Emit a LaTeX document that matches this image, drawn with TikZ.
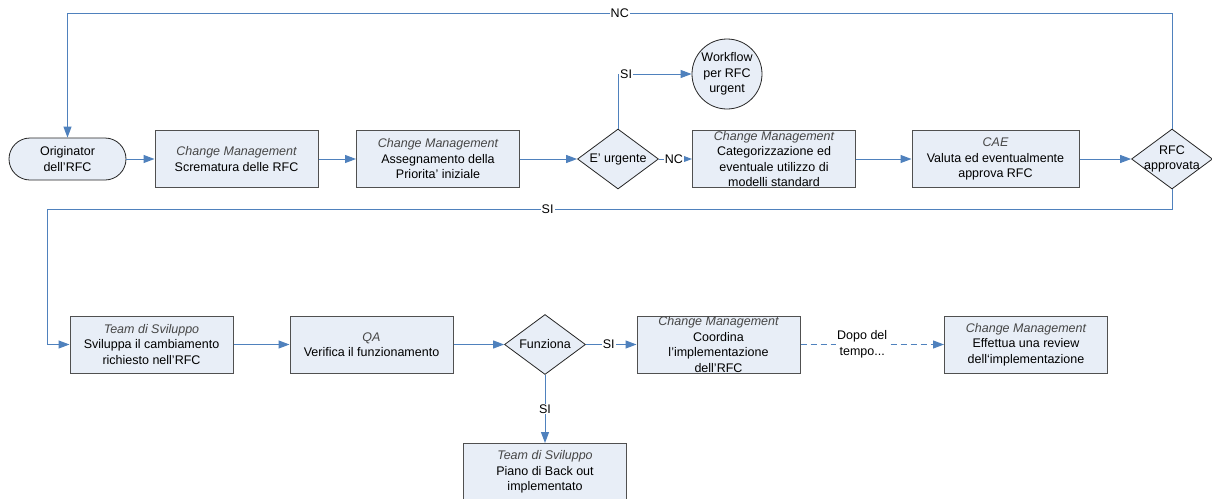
\documentclass[tikz,border=0pt]{standalone}
\usepackage{fontspec}
\setmainfont{Liberation Sans}
\usetikzlibrary{arrows.meta,shapes.geometric,calc}
\definecolor{lineblue}{RGB}{79,129,189}
\definecolor{boxfill}{RGB}{232,238,247}
\definecolor{boxborder}{RGB}{80,80,80}
\definecolor{ital}{RGB}{70,70,70}
\newcommand\diafont{\fontsize{12.5}{15.5}\selectfont}
\newcommand\cmt[1]{\textcolor{ital}{\itshape #1}}
\begin{document}
\begin{tikzpicture}[x=1pt,y=-1pt,
  box/.style={draw=boxborder, line width=1pt, fill=boxfill, minimum width=163pt,
    minimum height=57pt, inner sep=0pt, align=center, font=\diafont},
  dec/.style={draw=black!85, line width=0.8pt, fill=boxfill, shape=diamond, inner sep=0pt,
    minimum width=81pt, minimum height=60pt},
  conn/.style={draw=lineblue, line width=1pt, -{Triangle[length=11pt,width=8pt,fill=lineblue]}},
  lbl/.style={fill=white, inner sep=1pt, font=\diafont},
  txt/.style={font=\diafont, align=center}]
\clip (0,0) rectangle (1212,498);
\fill[white] (0,0) rectangle (1212,498);

% nodes
\node[draw=black!85, line width=0.8pt, fill=boxfill, rounded corners=21pt, minimum width=117pt,
  minimum height=42pt, inner sep=0pt, align=center, font=\diafont] (orig) at (67.5,159) {Originator\\dell’RFC};
\node[box] (b1) at (236.5,159) {\cmt{Change Management}\\Scrematura delle RFC};
\node[box] (b2) at (438,159) {\cmt{Change Management}\\Assegnamento della\\Priorita’ iniziale};
\node[dec, label={[txt]center:E’ urgente}] (d1) at (618,159) {};
\node[draw=black!85, line width=0.8pt, fill=boxfill, circle, minimum size=70pt, inner sep=0pt,
  label={[txt]center:Workflow\\per RFC\\urgent}] (wf) at (727,74) {};
\node[box] (b3) at (774,159) {\cmt{Change Management}\\Categorizzazione ed\\eventuale utilizzo di\\modelli standard};
\node[box, minimum width=167pt] (b4) at (995.5,159) {\cmt{CAE}\\Valuta ed eventualmente\\approva RFC};
\node[dec, label={[txt]center:RFC\\approvata}] (d2) at (1172,159) {};

\node[box] (b5) at (151.5,344.5) {\cmt{Team di Sviluppo}\\Sviluppa il cambiamento\\richiesto nell’RFC};
\node[box] (b6) at (371.5,344.5) {\cmt{QA}\\Verifica il funzionamento};
\node[dec, label={[txt]center:Funziona}] (d3) at (545,344.5) {};
\node[box] (b7) at (718.5,344.5) {\cmt{Change Management}\\Coordina\\l’implementazione\\dell’RFC};
\node[box] (b8) at (1026,344.5) {\cmt{Change Management}\\Effettua una review\\dell‘implementazione};
\node[box] (b9) at (545,472) {\cmt{Team di Sviluppo}\\Piano di Back out\\implementato};

\coordinate (top) at (0,13);
\coordinate (mid) at (0,209);
\coordinate (leftx) at (47,0);

% connectors
\draw[conn] (orig.east) -- (b1.west);
\draw[conn] (b1.east) -- (b2.west);
\draw[conn] (b2.east) -- (d1.west);
\draw[conn] (d1.north) |- node[lbl, pos=0.555] {SI} (wf.west);
\draw[conn] (d1.east) -- node[lbl, pos=0.45] {NC} (b3.west);
\draw[conn] (b3.east) -- (b4.west);
\draw[conn] (b4.east) -- (d2.west);
\draw[conn] (d2.north) -- (d2.north |- top) -- node[lbl] {NC} (orig.north |- top) -- (orig.north);
\draw[conn] (d2.south) -- (d2.south |- mid) -- node[lbl, pos=0.555] {SI} (leftx |- mid) -- (leftx |- b5.west) -- (b5.west);
\draw[conn] (b5.east) -- (b6.west);
\draw[conn] (b6.east) -- (d3.west);
\draw[conn] (d3.east) -- node[lbl, pos=0.45] {SI} (b7.west);
\draw[conn, dash pattern=on 6pt off 4pt] (b7.east) -- node[lbl, align=center, pos=0.43] {Dopo del\\tempo...} (b8.west);
\draw[conn] (d3.south) -- node[lbl] {SI} (b9.north);
\end{tikzpicture}
\end{document}
